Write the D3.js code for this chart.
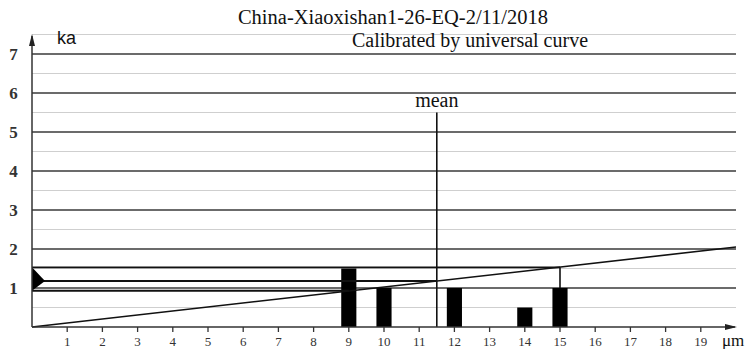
<!DOCTYPE html>
<html><head><meta charset="utf-8">
<script src="https://cdn.jsdelivr.net/npm/d3@7"></script>
<style>body{margin:0;background:#fff}svg{display:block}</style>
</head><body>
<svg id="c" width="750" height="349"></svg>
<script>
const title = "China-Xiaoxishan1-26-EQ-2/11/2018";
const subtitle = "Calibrated by universal curve";
const yTicks = [1,2,3,4,5,6,7];
const yHalfTicks = [0.5,1.5,2.5,3.5,4.5,5.5,6.5,7.5];
const xTicks = [1,2,3,4,5,6,7,8,9,10,11,12,13,14,15,16,17,18,19];
const sizes = [9,10,12,14,15];
const barValues = [1.5,1.0,1.0,0.5,1.0];
const meanSize = 11.5;
const meanLineTop = 5.5;
const curveSizes = [0,20];
const curveAges = [0,2.05];
const minAge = 0.93, meanAge = 1.18, maxAge = 1.53;
const minSize = 9, maxSize = 15;

const svg = d3.select("#c");
const x = d3.scaleLinear().domain([0,20]).range([32,736]);
const y = d3.scaleLinear().domain([0,7.5]).range([327,34.5]);
const serif = "'Liberation Serif','Times New Roman',serif";

// grid
svg.append("g").selectAll("line").data(yHalfTicks).join("line")
  .attr("x1",x(0)).attr("x2",x(20)).attr("y1",d=>y(d)).attr("y2",d=>y(d))
  .attr("stroke","#cfcfcf").attr("stroke-width",1.2);
svg.append("g").selectAll("line").data(yTicks).join("line")
  .attr("x1",x(0)).attr("x2",x(20)).attr("y1",d=>y(d)).attr("y2",d=>y(d))
  .attr("stroke","#3a3a3a").attr("stroke-width",1.5);

// y labels
svg.append("g").selectAll("text").data(yTicks).join("text")
  .attr("x",13.5).attr("y",d=>y(d)+6).attr("text-anchor","middle")
  .attr("font-family",serif).attr("font-weight","bold").attr("font-size",17).attr("fill","#333")
  .text(d=>d);

// bars
const bw = 0.215;
svg.append("g").selectAll("rect").data(sizes).join("rect")
  .attr("x",d=>x(d-bw)).attr("width",d=>x(d+bw)-x(d-bw))
  .attr("y",(d,i)=>y(barValues[i])).attr("height",(d,i)=>y(0)-y(barValues[i]))
  .attr("fill","#000");

// universal curve
const line = d3.line().x(d=>x(d[0])).y(d=>y(d[1]));
svg.append("path").datum(curveSizes.map((s,i)=>[s,curveAges[i]]))
  .attr("d",line).attr("stroke","#111").attr("stroke-width",1.6).attr("fill","none");

// min/mean/max horizontals
const hl = [[minSize,minAge],[meanSize,meanAge],[maxSize,maxAge]];
svg.append("g").selectAll("line").data(hl).join("line")
  .attr("x1",x(0)).attr("x2",d=>x(d[0])).attr("y1",d=>y(d[1])).attr("y2",d=>y(d[1]))
  .attr("stroke","#111").attr("stroke-width",1.8);
// vertical from bar 15 to curve
svg.append("line").attr("x1",x(maxSize)).attr("x2",x(maxSize))
  .attr("y1",y(barValues[4])).attr("y2",y(maxAge)).attr("stroke","#111").attr("stroke-width",1.6);

// mean line
svg.append("line").attr("x1",x(meanSize)).attr("x2",x(meanSize))
  .attr("y1",y(0)).attr("y2",y(meanLineTop)).attr("stroke","#111").attr("stroke-width",1.6);
svg.append("text").attr("x",x(meanSize)).attr("y",y(meanLineTop)-6).attr("text-anchor","middle")
  .attr("font-family",serif).attr("font-size",20).attr("fill","#111").text("mean");

// triangle marker
svg.append("path").attr("d",`M${x(0)},${y(maxAge)}L${x(0)+13},${y(meanAge)}L${x(0)},${y(minAge)}Z`)
  .attr("fill","#000");

// axes
svg.append("line").attr("x1",x(0)).attr("x2",x(0)).attr("y1",y(0)).attr("y2",36)
  .attr("stroke","#333").attr("stroke-width",1.5);
svg.append("path").attr("d",`M${x(0)-3},46L${x(0)},34L${x(0)+3},46Z`).attr("fill","#222");
svg.append("line").attr("x1",x(0)).attr("x2",735).attr("y1",y(0)).attr("y2",y(0))
  .attr("stroke","#333").attr("stroke-width",1.5);
svg.append("path").attr("d",`M725,${y(0)-3}L737,${y(0)}L725,${y(0)+3}Z`).attr("fill","#222");
svg.append("g").selectAll("line").data(xTicks).join("line")
  .attr("x1",d=>x(d)).attr("x2",d=>x(d)).attr("y1",y(0)).attr("y2",y(0)+5)
  .attr("stroke","#333").attr("stroke-width",1.3);
svg.append("g").selectAll("text").data(xTicks).join("text")
  .attr("x",d=>x(d)).attr("y",346).attr("text-anchor","middle")
  .attr("font-family",serif).attr("font-size",13).attr("fill","#333").text(d=>d);

svg.append("text").attr("x",57).attr("y",44).attr("font-family","'Liberation Sans',Arial,sans-serif")
  .attr("font-size",18).attr("fill","#111").text("ka");
svg.append("text").attr("x",722).attr("y",346).attr("font-family",serif)
  .attr("font-size",17).attr("fill","#111").text("μm");

svg.append("text").attr("x",393).attr("y",24).attr("text-anchor","middle")
  .attr("font-family",serif).attr("font-size",20.5).attr("fill","#111").text(title);
svg.append("text").attr("x",470).attr("y",47).attr("text-anchor","middle")
  .attr("font-family",serif).attr("font-size",20).attr("fill","#111").text(subtitle);
</script>
</body></html>
